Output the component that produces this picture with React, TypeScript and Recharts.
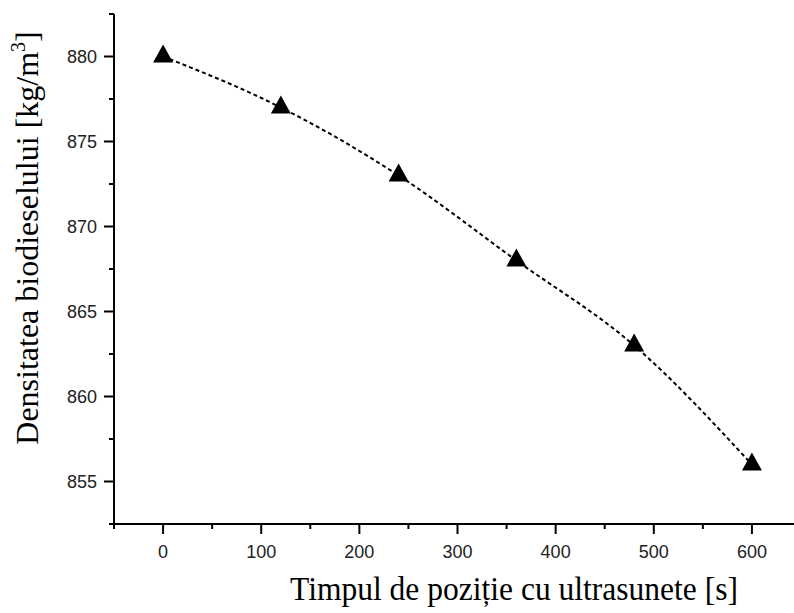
import React from 'react'
import { LineChart, Line, XAxis, YAxis, Label } from 'recharts'

// timp (s) si densitate (kg/m3)
const times = [0, 120, 240, 360, 480, 600]
const density = [880, 877, 873, 868, 863, 856]

const xTicks = [-50, 0, 50, 100, 150, 200, 250, 300, 350, 400, 450, 500, 550, 600, 650]
const yTicks = [852.5, 855, 857.5, 860, 862.5, 865, 867.5, 870, 872.5, 875, 877.5, 880, 882.5]

const data = times.map((t, i) => ({ t, d: density[i] }))

const tickFont = '"Liberation Sans", Arial, sans-serif'
const titleFont = '"Liberation Serif", "Times New Roman", serif'

const XTick = (props: any) => {
  const { x, y, payload } = props
  const v = payload.value
  const major = v % 100 === 0
  return (
    <g>
      <line x1={x} x2={x} y1={y} y2={y + (major ? 10 : 5)} stroke="#000" strokeWidth={2} />
      {major && (
        <text x={x} y={y + 34} textAnchor="middle" fontSize={18} fontFamily={tickFont} fill="#222">
          {v}
        </text>
      )}
    </g>
  )
}

const YTick = (props: any) => {
  const { x, y, payload } = props
  const v = payload.value
  const major = v % 5 === 0
  return (
    <g>
      <line x1={x} x2={x - (major ? 10 : 5)} y1={y} y2={y} stroke="#000" strokeWidth={2} />
      {major && (
        <text x={x - 17} y={y + 6.5} textAnchor="end" fontSize={18} fontFamily={tickFont} fill="#222">
          {v}
        </text>
      )}
    </g>
  )
}

const Triangle = (props: any) => {
  const { cx, cy } = props
  if (cx == null || cy == null) return null
  return <polygon points={`${cx},${cy - 12} ${cx + 10},${cy + 6} ${cx - 10},${cy + 6}`} fill="#000" />
}

const XTitle = (props: any) => {
  const vb = props.viewBox
  return (
    <text
      x={506}
      y={vb.y + 76}
      textAnchor="middle"
      fontSize={34}
      fontFamily={titleFont}
      fill="#000"
      textLength={448}
      lengthAdjust="spacingAndGlyphs"
    >
      Timpul de poziție cu ultrasunete [s]
    </text>
  )
}

const YTitle = () => (
  <text
    x={30}
    y={230}
    transform="rotate(-90 30 230)"
    textAnchor="middle"
    fontSize={32}
    fontFamily={titleFont}
    fill="#000"
  >
    Densitatea biodieselului [kg/m
    <tspan dy={-13} fontSize={20}>3</tspan>
    <tspan dy={13}>]</tspan>
  </text>
)

export default function App() {
  return (
    <div style={{ position: 'absolute', left: 8, top: 8, width: 786, height: 605, overflow: 'hidden', background: '#fff' }}>
      <LineChart width={800} height={605} data={data} margin={{ top: 6, right: 7, left: 0, bottom: 0 }}>
        <XAxis
          dataKey="t"
          type="number"
          domain={[-50, 650]}
          ticks={xTicks}
          interval={0}
          height={89}
          tickSize={0}
          tickMargin={0}
          tickLine={false}
          axisLine={{ stroke: '#000', strokeWidth: 2 }}
          tick={<XTick />}
          allowDataOverflow
        >
          <Label content={XTitle} />
        </XAxis>
        <YAxis
          type="number"
          domain={[852.5, 882.5]}
          ticks={yTicks}
          interval={0}
          width={106}
          tickSize={0}
          tickMargin={0}
          tickLine={false}
          axisLine={{ stroke: '#000', strokeWidth: 2 }}
          tick={<YTick />}
          allowDataOverflow
        >
          <Label content={YTitle} />
        </YAxis>
        <Line
          dataKey="d"
          type="monotone"
          stroke="#000"
          strokeWidth={2}
          strokeDasharray="4 3"
          dot={<Triangle />}
          activeDot={false}
          isAnimationActive={false}
        />
      </LineChart>
    </div>
  )
}
